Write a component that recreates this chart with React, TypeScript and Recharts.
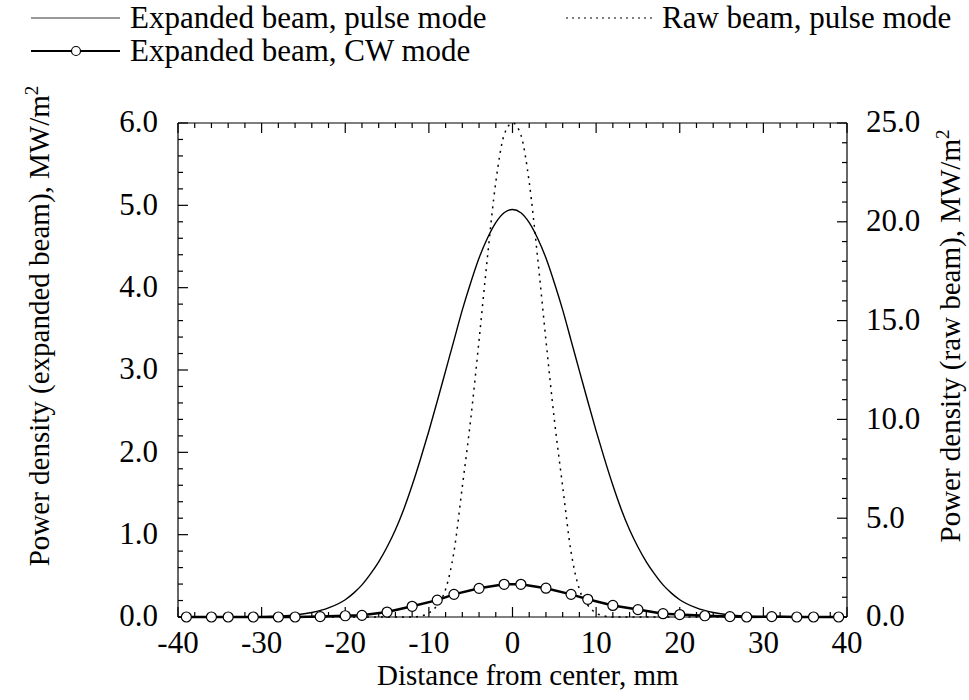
import React from 'react';
import { LineChart, Line, XAxis, YAxis, Legend } from 'recharts';

const FONT = '"Liberation Serif", "Times New Roman", Times, serif';

// Expanded beam, pulse mode (left axis, MW/m^2)
const pulseX = [-40, -30, -28, -26, -24, -22, -20, -19, -18, -17, -16, -15, -14, -13, -12, -11, -10, -9, -8, -7, -6, -5, -4, -3, -2, -1, 0, 1, 2, 3, 4, 5, 6, 7, 8, 9, 10, 11, 12, 13, 14, 15, 16, 17, 18, 19, 20, 22, 24, 26, 28, 30, 40];
const pulseY = [0, 0.005, 0.012, 0.025, 0.055, 0.11, 0.21, 0.29, 0.39, 0.52, 0.67, 0.85, 1.06, 1.31, 1.6, 1.92, 2.26, 2.62, 2.99, 3.36, 3.73, 4.06, 4.36, 4.6, 4.79, 4.91, 4.95, 4.91, 4.79, 4.6, 4.36, 4.06, 3.73, 3.36, 2.99, 2.62, 2.26, 1.92, 1.6, 1.31, 1.06, 0.85, 0.67, 0.52, 0.39, 0.29, 0.21, 0.11, 0.055, 0.025, 0.012, 0.005, 0];

// Raw beam, pulse mode (right axis, MW/m^2)
const rawX = [-40, -14, -12, -11, -10, -9, -8, -7, -6, -5, -4, -3, -2, -1, 0, 1, 2, 3, 4, 5, 6, 7, 8, 9, 10, 11, 12, 14, 40];
const rawY = [0, 0, 0, 0.05, 0.2, 0.6, 1.4, 3.3, 6.6, 10.0, 14.0, 18.2, 22.0, 24.4, 25.0, 24.4, 22.0, 18.2, 14.0, 10.0, 6.6, 3.3, 1.4, 0.6, 0.2, 0.05, 0, 0, 0];

// Expanded beam, CW mode (left axis, MW/m^2)
const cwX = [-39, -36, -34, -31, -28, -26, -23, -20, -18, -15, -12, -9, -7, -4, -1, 1, 4, 7, 9, 12, 15, 18, 20, 23, 26, 28, 31, 34, 36, 39];
const cwY = [0, 0, 0, 0, 0, 0, 0.005, 0.015, 0.02, 0.06, 0.13, 0.205, 0.275, 0.348, 0.397, 0.397, 0.35, 0.275, 0.215, 0.14, 0.09, 0.04, 0.03, 0.015, 0.005, 0, 0.005, 0, 0, 0];

// Tick positions (all ticks) and labelled (major) ticks
const xTicks = [-40, -38, -36, -34, -32, -30, -28, -26, -24, -22, -20, -18, -16, -14, -12, -10, -8, -6, -4, -2, 0, 2, 4, 6, 8, 10, 12, 14, 16, 18, 20, 22, 24, 26, 28, 30, 32, 34, 36, 38, 40];
const xMajorTicks = [-40, -30, -20, -10, 0, 10, 20, 30, 40];
const leftTicks = [0, 0.2, 0.4, 0.6, 0.8, 1, 1.2, 1.4, 1.6, 1.8, 2, 2.2, 2.4, 2.6, 2.8, 3, 3.2, 3.4, 3.6, 3.8, 4, 4.2, 4.4, 4.6, 4.8, 5, 5.2, 5.4, 5.6, 5.8, 6];
const leftMajorTicks = [0, 1, 2, 3, 4, 5, 6];
const rightTicks = [0, 1, 2, 3, 4, 5, 6, 7, 8, 9, 10, 11, 12, 13, 14, 15, 16, 17, 18, 19, 20, 21, 22, 23, 24, 25];
const rightMajorTicks = [0, 5, 10, 15, 20, 25];

const X_DOMAIN: [number, number] = [-40, 40];
const L_DOMAIN: [number, number] = [0, 6];
const R_DOMAIN: [number, number] = [0, 25];

const pulseData = pulseX.map((x, i) => ({ x, y: pulseY[i] }));
const rawData = rawX.map((x, i) => ({ x, y: rawY[i] }));
const cwData = cwX.map((x, i) => ({ x, y: cwY[i] }));

const W = 969;
const H = 700;
const M_TOP = 122;
const AX_LEFT_W = 178;
const AX_RIGHT_W = 122;
const AX_BOTTOM_H = 83;
const AX_TOP_H = 1;
const PLOT_W = W - AX_LEFT_W - AX_RIGHT_W;
const PLOT_H = H - M_TOP - AX_TOP_H - AX_BOTTOM_H;

const TICK_FS = 31;
const TITLE_FS = 29;
const LEG_FS = 31;
const MINOR_PX = 5;
const MAJOR_PX = 10;
const AL = { stroke: '#000', strokeWidth: 1.2 };

// tick lengths expressed in data units of each axis
const xLen = (px: number) => (px * (X_DOMAIN[1] - X_DOMAIN[0])) / PLOT_W;
const lLen = (px: number) => (px * (L_DOMAIN[1] - L_DOMAIN[0])) / PLOT_H;

const isIn = (arr: number[], v: number) => arr.some((a) => Math.abs(a - v) < 1e-6);
const pxOf = (major: number[], v: number) => (isIn(major, v) ? MAJOR_PX : MINOR_PX);

// inward tick marks: one short two-point segment per tick
type Seg = { key: string; axis: string; pts: { x: number; y: number }[] };
const tickSegs: Seg[] = [
  ...xTicks.map((v) => ({ key: `b${v}`, axis: 'l', pts: [{ x: v, y: L_DOMAIN[0] }, { x: v, y: L_DOMAIN[0] + lLen(pxOf(xMajorTicks, v)) }] })),
  ...xTicks.map((v) => ({ key: `t${v}`, axis: 'l', pts: [{ x: v, y: L_DOMAIN[1] }, { x: v, y: L_DOMAIN[1] - lLen(pxOf(xMajorTicks, v)) }] })),
  ...leftTicks.map((v) => ({ key: `l${v}`, axis: 'l', pts: [{ x: X_DOMAIN[0], y: v }, { x: X_DOMAIN[0] + xLen(pxOf(leftMajorTicks, v)), y: v }] })),
  ...rightTicks.map((v) => ({ key: `r${v}`, axis: 'r', pts: [{ x: X_DOMAIN[1], y: v }, { x: X_DOMAIN[1] - xLen(pxOf(rightMajorTicks, v)), y: v }] })),
];

const LeftLabel = (p: any) => {
  const v = Number(p.payload.value);
  if (!isIn(leftMajorTicks, v)) return <g />;
  return (
    <text x={Number(p.x)} y={Number(p.y)} dy="0.3em" textAnchor="end" fontSize={TICK_FS} fontFamily={FONT} fill="#000">
      {v.toFixed(1)}
    </text>
  );
};

const RightLabel = (p: any) => {
  const v = Number(p.payload.value);
  if (!isIn(rightMajorTicks, v)) return <g />;
  return (
    <text x={Number(p.x)} y={Number(p.y)} dy="0.3em" textAnchor="start" fontSize={TICK_FS} fontFamily={FONT} fill="#000">
      {v.toFixed(1)}
    </text>
  );
};

const BottomLabel = (p: any) => {
  const v = Number(p.payload.value);
  if (!isIn(xMajorTicks, v)) return <g />;
  return (
    <text x={Number(p.x)} y={Number(p.y) + 36} textAnchor="middle" fontSize={TICK_FS} fontFamily={FONT} fill="#000">
      {String(v)}
    </text>
  );
};

const XTitle = (p: any) => {
  const vb = p.viewBox || { x: AX_LEFT_W, y: H - AX_BOTTOM_H, width: PLOT_W, height: AX_BOTTOM_H };
  return (
    <text x={vb.x + 199} y={vb.y + 68} textAnchor="start" fontSize={TITLE_FS} fontFamily={FONT} fill="#000">
      Distance from center, mm
    </text>
  );
};

const LeftTitle = (p: any) => {
  const vb = p.viewBox || { x: 0, y: M_TOP + AX_TOP_H, width: AX_LEFT_W, height: PLOT_H };
  const cx = vb.x + 49;
  const cy = vb.y + 203;
  return (
    <text x={cx} y={cy} transform={`rotate(-90 ${cx} ${cy})`} textAnchor="middle" fontSize={TITLE_FS} fontFamily={FONT} fill="#000">
      Power density (expanded beam), MW/m<tspan dy={-11} fontSize={19}>2</tspan>
    </text>
  );
};

const RightTitle = (p: any) => {
  const vb = p.viewBox || { x: W - AX_RIGHT_W, y: M_TOP + AX_TOP_H, width: AX_RIGHT_W, height: PLOT_H };
  const cx = vb.x + 113;
  const cy = vb.y + 213;
  return (
    <text x={cx} y={cy} transform={`rotate(-90 ${cx} ${cy})`} textAnchor="middle" fontSize={TITLE_FS} fontFamily={FONT} fill="#000">
      Power density (raw beam), MW/m<tspan dy={-11} fontSize={19}>2</tspan>
    </text>
  );
};

const L1 = 28;
const L2 = 61;

const LegendGraphic = () => (
  <svg width={W} height={70} style={{ display: 'block', overflow: 'visible' }}>
    <line x1={31} x2={120} y1={L1 - 10} y2={L1 - 10} stroke="#333" strokeWidth={1} />
    <text x={130} y={L1} fontSize={LEG_FS} fontFamily={FONT} fill="#000">Expanded beam, pulse mode</text>
    <line x1={566} x2={652} y1={L1 - 10} y2={L1 - 10} stroke="#000" strokeWidth={1.2} strokeDasharray="2 4" />
    <text x={662} y={L1} fontSize={LEG_FS} fontFamily={FONT} fill="#000">Raw beam, pulse mode</text>
    <line x1={31} x2={120} y1={L2 - 10} y2={L2 - 10} stroke="#000" strokeWidth={2} />
    <circle cx={76} cy={L2 - 10} r={4.5} fill="#fff" stroke="#000" strokeWidth={1.2} />
    <text x={130} y={L2} fontSize={LEG_FS} fontFamily={FONT} fill="#000">Expanded beam, CW mode</text>
  </svg>
);

export default function App() {
  return (
    <div style={{ position: 'absolute', left: 0, top: 0, width: W, height: H, background: '#fff' }}>
      <LineChart width={W} height={H} margin={{ top: M_TOP, right: 0, bottom: 0, left: 0 }}>
        <XAxis xAxisId="b" dataKey="x" type="number" domain={X_DOMAIN} ticks={xTicks} interval={0}
          height={AX_BOTTOM_H} tickSize={0} tickMargin={0} tickLine={false} axisLine={AL}
          tick={<BottomLabel />} label={<XTitle />} />
        <XAxis xAxisId="t" orientation="top" dataKey="x" type="number" domain={X_DOMAIN} ticks={xTicks} interval={0}
          height={AX_TOP_H} tickSize={0} tickLine={false} axisLine={AL} tick={false} />
        <YAxis yAxisId="l" type="number" domain={L_DOMAIN} ticks={leftTicks} interval={0}
          width={AX_LEFT_W} tickSize={0} tickMargin={20} tickLine={false} axisLine={AL}
          tick={<LeftLabel />} label={<LeftTitle />} />
        <YAxis yAxisId="r" orientation="right" type="number" domain={R_DOMAIN} ticks={rightTicks} interval={0}
          width={AX_RIGHT_W} tickSize={0} tickMargin={19} tickLine={false} axisLine={AL}
          tick={<RightLabel />} label={<RightTitle />} />
        <Legend
          layout="horizontal"
          verticalAlign="middle"
          align="center"
          wrapperStyle={{ position: 'absolute', top: 0, left: 0, width: W, height: 70, margin: 0, padding: 0 }}
          content={() => <LegendGraphic />}
        />
        {tickSegs.map((s) => (
          <Line key={s.key} data={s.pts} xAxisId="b" yAxisId={s.axis} dataKey="y" type="linear"
            stroke="#000" strokeWidth={1.2} dot={false} activeDot={false} legendType="none"
            isAnimationActive={false} />
        ))}
        <Line data={pulseData} xAxisId="b" yAxisId="l" dataKey="y" name="Expanded beam, pulse mode"
          type="monotone" stroke="#000" strokeWidth={1.4} dot={false} isAnimationActive={false} />
        <Line data={rawData} xAxisId="b" yAxisId="r" dataKey="y" name="Raw beam, pulse mode"
          type="monotone" stroke="#000" strokeWidth={1.5} strokeDasharray="2 5" dot={false} isAnimationActive={false} />
        <Line data={cwData} xAxisId="b" yAxisId="l" dataKey="y" name="Expanded beam, CW mode"
          type="linear" stroke="#000" strokeWidth={2.5}
          dot={{ r: 5, fill: '#fff', stroke: '#000', strokeWidth: 1.2 }} isAnimationActive={false} />
      </LineChart>
    </div>
  );
}
